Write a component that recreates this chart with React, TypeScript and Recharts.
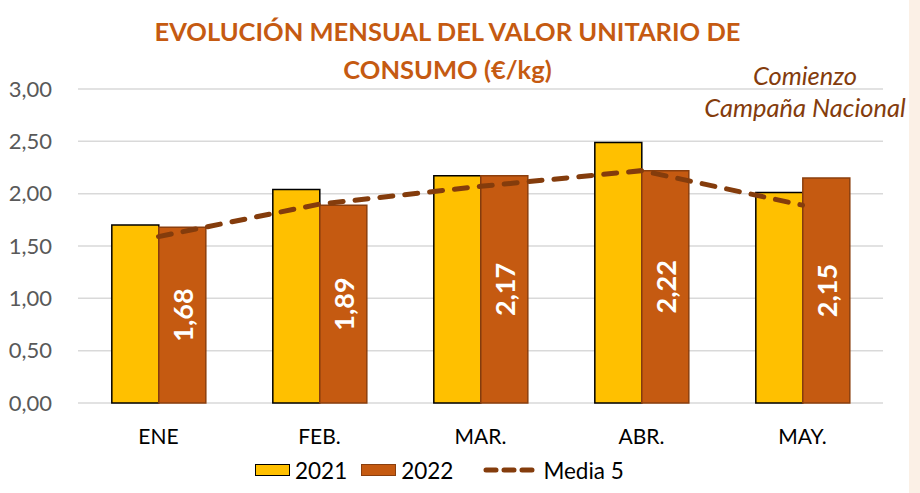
import React from "react";
import {
  ComposedChart, Bar, Line, XAxis, YAxis, CartesianGrid, LabelList,
} from "recharts";

const months = ["ENE", "FEB.", "MAR.", "ABR.", "MAY."];
const values2021 = [1.7, 2.04, 2.17, 2.49, 2.01];
const values2022 = [1.68, 1.89, 2.17, 2.22, 2.15];
const media5 = [1.59, 1.9, 2.07, 2.22, 1.89];
const yTicks = [0, 0.5, 1, 1.5, 2, 2.5, 3];

const FONT = "Lato, 'Open Sans', sans-serif";
const YELLOW = "#FFC000";
const ORANGE = "#C55A11";
const BROWN = "#843C0C";

const data = months.map((m, i) => ({
  month: m,
  v2021: values2021[i],
  v2022: values2022[i],
  media: media5[i],
}));

const fmt = (v: number) => v.toFixed(2).replace(".", ",");

function RotatedLabel(props: any) {
  const { x, y, width, height, value } = props;
  const cx = x + width / 2;
  const cy = y + height / 2;
  return (
    <text
      x={cx}
      y={cy}
      transform={`rotate(-90 ${cx} ${cy})`}
      textAnchor="middle"
      dominantBaseline="central"
      fill="#FFFFFF"
      fontSize={27}
      fontWeight={700}
      fontFamily={FONT}
    >
      {fmt(value)}
    </text>
  );
}

export default function App() {
  return (
    <div style={{ position: "absolute", left: 0, top: 0, width: 920, height: 493, background: "#FFFFFF", fontFamily: FONT }}>
      <div style={{ position: "absolute", right: 0, top: 0, width: 11, height: 493, background: "#FBF0E6" }} />

      <div style={{ position: "absolute", left: 0, top: 12, width: 895, textAlign: "center", color: ORANGE, fontWeight: 700, fontSize: 25.5, lineHeight: "38px" }}>
        EVOLUCIÓN MENSUAL DEL VALOR UNITARIO DE<br />CONSUMO (€/kg)
      </div>

      {/* campaign note, top right */}
      <div style={{ position: "absolute", left: 690, top: 59, width: 230, textAlign: "center", color: BROWN, fontStyle: "italic", fontSize: 25.5, lineHeight: "32px" }}>
        Comienzo<br />Campaña Nacional
      </div>

      <ComposedChart
        width={920}
        height={493}
        data={data}
        margin={{ top: 89, right: 37, left: 0, bottom: 50 }}
        barGap={0}
        barCategoryGap="21%"
        style={{ position: "absolute", left: 0, top: 0 }}
      >
        <CartesianGrid vertical={false} stroke="#D9D9D9" strokeWidth={1.5} />
        <XAxis
          dataKey="month"
          axisLine={false}
          tickLine={false}
          height={40}
          tickMargin={20}
          tick={{ fill: "#000000", fontSize: 21, fontFamily: FONT }}
        />
        <YAxis
          domain={[0, 3]}
          ticks={yTicks}
          width={78}
          axisLine={false}
          tickLine={false}
          tickMargin={20}
          tickFormatter={fmt}
          tick={{ fill: "#595959", fontSize: 22, fontFamily: FONT }}
        />
        <Bar dataKey="v2021" fill={YELLOW} stroke="#000000" strokeWidth={1.5} isAnimationActive={false} />
        <Bar dataKey="v2022" fill={ORANGE} stroke="#8B3F0E" strokeWidth={1.5} isAnimationActive={false}>
          <LabelList dataKey="v2022" content={RotatedLabel} />
        </Bar>
        <Line
          dataKey="media"
          type="linear"
          stroke={BROWN}
          strokeWidth={5}
          strokeDasharray="13 12"
          strokeLinecap="round"
          dot={false}
          activeDot={false}
          isAnimationActive={false}
        />
      </ComposedChart>

      <div style={{ position: "absolute", left: 255, top: 457, height: 26, display: "flex", alignItems: "center", fontSize: 22.5, color: "#000000" }}>
        <span style={{ width: 33, height: 10, background: YELLOW, border: "1.5px solid #000000", display: "inline-block" }} />
        <span style={{ marginLeft: 5, marginRight: 14 }}>2021</span>
        <span style={{ width: 33, height: 10, background: ORANGE, border: "1.5px solid #8B3F0E", display: "inline-block" }} />
        <span style={{ marginLeft: 5, marginRight: 30 }}>2022</span>
        <svg width={52} height={10} style={{ display: "inline-block" }}>
          <line x1={3} y1={5} x2={50} y2={5} stroke={BROWN} strokeWidth={5} strokeDasharray="10 8" strokeLinecap="round" />
        </svg>
        <span style={{ marginLeft: 8 }}>Media 5</span>
      </div>
    </div>
  );
}
